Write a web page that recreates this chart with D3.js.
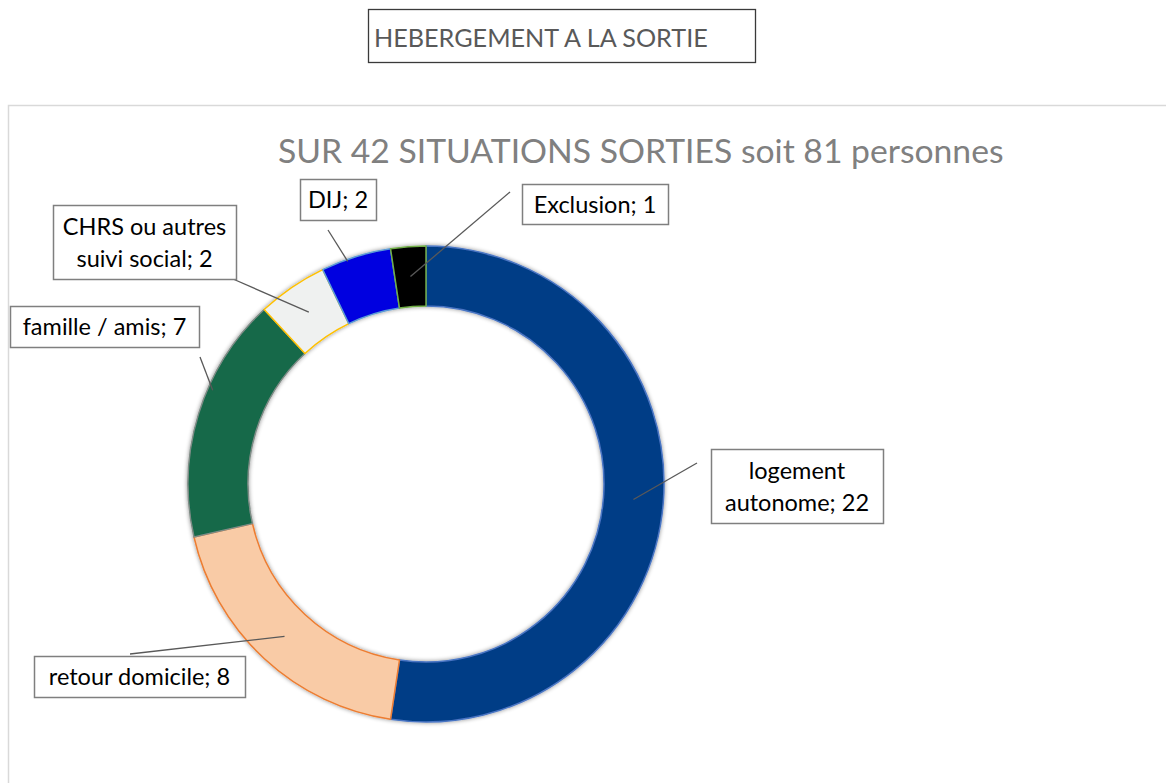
<!DOCTYPE html>
<html>
<head>
<meta charset="utf-8">
<script src="https://cdn.jsdelivr.net/npm/d3@7"></script>
<style>
  body { margin: 0; background: #fff; }
  svg { display: block; font-family: Lato, "Open Sans", sans-serif; }
</style>
</head>
<body>
<svg id="chart" width="1166" height="783"></svg>
<script>
// data ------------------------------------------------------------ //
var categories = ['logement autonome', 'retour domicile', 'famille / amis',
  'CHRS ou autres suivi social', 'DIJ', 'Exclusion'];
var counts = [22, 8, 7, 2, 2, 1];
var fills = ['#053c86', '#f9cba6', '#12694a', '#eff1f0', '#0000e0', '#000000'];
var strokes = ['#4a76c4', '#ed7d31', '#7f8c86', '#ffc000', '#5b9bd5', '#70ad47'];
var labelLines = [['logement', 'autonome; 22'], ['retour domicile; 8'], ['famille / amis; 7'],
  ['CHRS ou autres', 'suivi social; 2'], ['DIJ; 2'], ['Exclusion; 1']];

// label box layout (box + leader start, leader end is on the slice)
var labelBoxes = [
  { x: 711, y: 449, w: 172, h: 74, lx: 697, ly: 463, r: null, t: 0.5 },
  { x: 34, y: 656, w: 211, h: 41, lx: 130, ly: 654, r: null, t: 0.5 },
  { x: 10, y: 306, w: 189, h: 41, lx: 200, ly: 357, r: 233, t: 0.61 },
  { x: 53, y: 205, w: 183, h: 74, lx: 233, ly: 279, r: null, t: 0.5 },
  { x: 300, y: 179, w: 76, h: 41, lx: 328, ly: 230, r: 236, t: 0.37 },
  { x: 522, y: 184, w: 146, h: 40, lx: 510, ly: 192, r: null, t: 0.5 }
];

var groups = categories.map(function (c, i) {
  return { type: c, count: counts[i], idx: i };
});

var svg = d3.select('#chart');
var cx = 426, cy = 484, outerR = 238, innerR = 178;

// shadow
var defs = svg.append('defs');
defs.append('filter')
  .attr('id', 'shadow')
  .attr('x', '-20%').attr('y', '-20%').attr('width', '140%').attr('height', '140%')
  .append('feDropShadow')
  .attr('dx', 0).attr('dy', 0)
  .attr('stdDeviation', 2)
  .attr('flood-color', '#000')
  .attr('flood-opacity', 0.45);

// title box ------------------------------------------------------- //
svg.append('rect')
  .attr('x', 368.5).attr('y', 9.5).attr('width', 387).attr('height', 53)
  .attr('fill', '#fff').attr('stroke', '#3a3a3a').attr('stroke-width', 1.3);
svg.append('text')
  .attr('x', 374).attr('y', 47)
  .attr('font-size', 25.2)
  .attr('fill', '#595959')
  .text('HEBERGEMENT A LA SORTIE');

// chart frame
svg.append('path')
  .attr('d', 'M8.5,783 V105.5 H1166')
  .attr('fill', 'none').attr('stroke', '#d9d9d9').attr('stroke-width', 1.5);

svg.append('text')
  .attr('x', 278).attr('y', 163)
  .attr('font-size', 33.7)
  .attr('fill', '#808080')
  .text('SUR 42 SITUATIONS SORTIES soit 81 personnes');

// donut ----------------------------------------------------------- //
var pie = d3.pie()
  .sort(null)
  .value(function (d) { return d.count; });
var arc = d3.arc()
  .outerRadius(outerR)
  .innerRadius(innerR);

var data = pie(groups);
var g = svg.append('g').attr('transform', 'translate(' + cx + ',' + cy + ')');

g.append('g')
  .attr('filter', 'url(#shadow)')
  .selectAll('path')
  .data(data)
  .enter()
  .append('path')
  .attr('d', arc)
  .attr('fill', function (d) { return fills[d.data.idx]; })
  .attr('stroke', function (d) { return strokes[d.data.idx]; })
  .attr('stroke-width', 1.5)
  .attr('stroke-linejoin', 'round');

// labels ---------------------------------------------------------- //
function anchorPoint(d, box) {
  if (box.r === null) return arc.centroid(d);
  var a = d.startAngle + (d.endAngle - d.startAngle) * box.t;
  return [box.r * Math.sin(a), -box.r * Math.cos(a)];
}

var leaders = svg.append('g');
var labels = svg.append('g');

data.forEach(function (d) {
  var box = labelBoxes[d.data.idx];
  var p = anchorPoint(d, box);
  leaders.append('line')
    .attr('x1', box.lx).attr('y1', box.ly)
    .attr('x2', cx + p[0]).attr('y2', cy + p[1])
    .attr('stroke', '#595959').attr('stroke-width', 1.3);

  labels.append('rect')
    .attr('x', box.x + 0.5).attr('y', box.y + 0.5)
    .attr('width', box.w).attr('height', box.h)
    .attr('fill', '#fff').attr('stroke', '#7f7f7f').attr('stroke-width', 1.5);

  var lines = labelLines[d.data.idx];
  var lh = 32;
  var startY = box.y + box.h / 2 - (lines.length - 1) * lh / 2 + 8.5;
  var t = labels.append('text')
    .attr('text-anchor', 'middle')
    .attr('font-size', 23.5)
    .attr('fill', '#000');
  lines.forEach(function (s, i) {
    t.append('tspan')
      .attr('x', box.x + box.w / 2)
      .attr('y', startY + i * lh)
      .text(s);
  });
});
</script>
</body>
</html>
